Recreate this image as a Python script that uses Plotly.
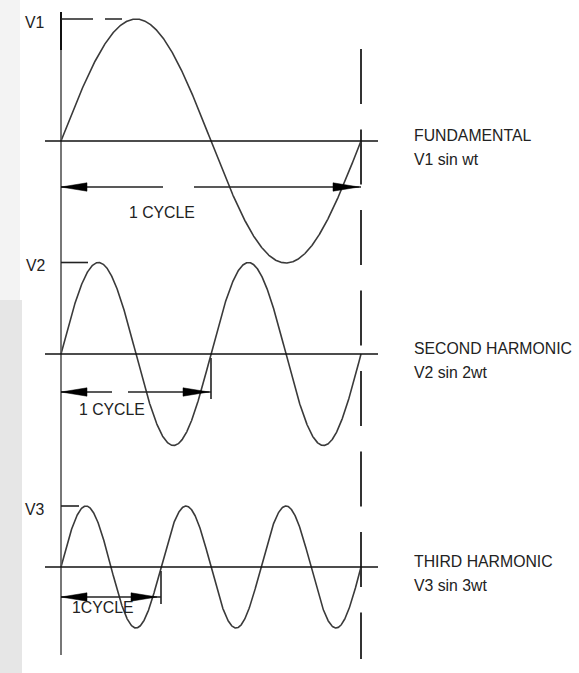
import numpy as np
import plotly.graph_objects as go

# ---- data ----
harmonics = [1, 2, 3]
amplitudes = [1.0, 0.75, 0.5]          # V1, V2, V3 relative to V1
peak_labels = ["V1", "V2", "V3"]
names = ["FUNDAMENTAL", "SECOND HARMONIC", "THIRD HARMONIC"]
formulas = ["V1 sin wt", "V2 sin 2wt", "V3 sin 3wt"]
cycle_labels = ["1 CYCLE", "1 CYCLE", "1CYCLE"]

# ---- layout constants (pixel scale helpers) ----
W, H = 579, 673
PX_X = 300.0   # px per fundamental cycle
PX_Y = 122.0   # px per unit amplitude
X0_PX, BASE1_PX = 61, 141
xmin, xmax = -X0_PX / PX_X, (W - X0_PX) / PX_X
ymax, ymin = BASE1_PX / PX_Y, -(H - BASE1_PX) / PX_Y
gap = 213 / PX_Y
baselines = [0.0, -gap, -2 * gap]

def px(v):  # px distance -> x units
    return v / PX_X
def py(v):  # px distance -> y units
    return v / PX_Y

fig = go.Figure()
shapes = []
annotations = []
FONT = dict(family="Liberation Sans, Arial, sans-serif", size=15.8, color="#222")

# background watermark strip
shapes.append(dict(type="rect", xref="paper", yref="paper", x0=0, x1=22 / W, y0=0, y1=1 - 300 / H,
                   fillcolor="#e6e6e6", line_width=0, layer="below"))
shapes.append(dict(type="rect", xref="paper", yref="paper", x0=0, x1=20 / W, y0=1 - 300 / H, y1=1,
                   fillcolor="#f3f3f3", line_width=0, layer="below"))

arrow_drop = [46, 38, 30]       # arrow line below baseline (px)
arrow_gaps = [(163, 194), (112, 128), None]
text_drop = [25, 17, 10]
text_cx = [162, 112, 102]
marker_len = [None, 27, 18]

# left vertical line
shapes.append(dict(type="line", x0=0, x1=0, y0=ymax - py(12), y1=ymax - py(655),
                   line=dict(color="#555", width=1.6)))
shapes.append(dict(type="line", x0=0, x1=0, y0=ymax - py(12), y1=ymax - py(50),
                   line=dict(color="#111", width=2)))
# dashed vertical at end of fundamental cycle
shapes.append(dict(type="line", x0=1, x1=1, y0=ymax - py(49), y1=ymax - py(659),
                   line=dict(color="#333", width=2, dash="55px,25.5px")))

AH_L, AH_H = px(26), py(4.2)

for i, (n, A, b) in enumerate(zip(harmonics, amplitudes, baselines)):
    t = np.linspace(0, 1, 1200)
    fig.add_trace(go.Scatter(x=t, y=b + A * np.sin(2 * np.pi * n * t), mode="lines",
                             line=dict(color="#3a3a3a", width=1.6), hoverinfo="skip"))
    # baseline axis
    shapes.append(dict(type="line", x0=-px(16), x1=px(317), y0=b, y1=b,
                       line=dict(color="#111", width=1.6)))
    # peak marker
    peak_y = b + A
    if marker_len[i] is None:
        shapes.append(dict(type="line", x0=0, x1=px(61), y0=peak_y, y1=peak_y,
                           line=dict(color="#222", width=1.6, dash="32px,12px")))
    else:
        shapes.append(dict(type="line", x0=0, x1=px(marker_len[i]), y0=peak_y, y1=peak_y,
                           line=dict(color="#222", width=1.6)))
    annotations.append(dict(x=-px(14), y=peak_y - py(3), text=peak_labels[i], showarrow=False,
                            xanchor="right", yanchor="middle", font=FONT))
    # cycle arrow
    ay = b - py(arrow_drop[i])
    end = 1.0 / n
    g = arrow_gaps[i]
    if g is None:
        segs = [(0, end)]
    else:
        segs = [(0, px(g[0] - X0_PX)), (px(g[1] - X0_PX), end)]
    for s0, s1 in segs:
        shapes.append(dict(type="line", x0=s0, x1=s1, y0=ay, y1=ay,
                           line=dict(color="#222", width=1.4)))
    tip_r = end - (px(2) if n == 3 else 0)
    shapes.append(dict(type="path",
                       path=f"M 0,{ay} L {AH_L},{ay + AH_H} L {AH_L},{ay - AH_H} Z",
                       fillcolor="#000", line=dict(color="#000", width=0.5)))
    shapes.append(dict(type="path",
                       path=f"M {tip_r - px(2)},{ay} L {tip_r - px(2) - AH_L},{ay + AH_H} L {tip_r - px(2) - AH_L},{ay - AH_H} Z",
                       fillcolor="#000", line=dict(color="#000", width=0.5)))
    if n > 1:
        shapes.append(dict(type="line", x0=end, x1=end, y0=b - py(4), y1=ay - py(7),
                           line=dict(color="#222", width=1.6)))
    annotations.append(dict(x=px(text_cx[i] - X0_PX), y=ay - py(text_drop[i]), text=cycle_labels[i],
                            showarrow=False, xanchor="center", yanchor="middle", font=FONT))
    # right-hand labels
    annotations.append(dict(x=px(412 - X0_PX), y=b + py(6), text=names[i], showarrow=False,
                            xanchor="left", yanchor="middle", font=FONT))
    annotations.append(dict(x=px(412 - X0_PX), y=b - py(18), text=formulas[i], showarrow=False,
                            xanchor="left", yanchor="middle", font=FONT))

fig.update_layout(
    width=W, height=H, margin=dict(l=0, r=0, t=0, b=0),
    paper_bgcolor="white", plot_bgcolor="white", showlegend=False,
    xaxis=dict(range=[xmin, xmax], visible=False, fixedrange=True),
    yaxis=dict(range=[ymin, ymax], visible=False, fixedrange=True),
    shapes=shapes, annotations=annotations,
)
fig.write_html("out.html", config={"displayModeBar": False},
               post_script="document.body.style.margin='0';document.body.style.overflow='hidden';")
